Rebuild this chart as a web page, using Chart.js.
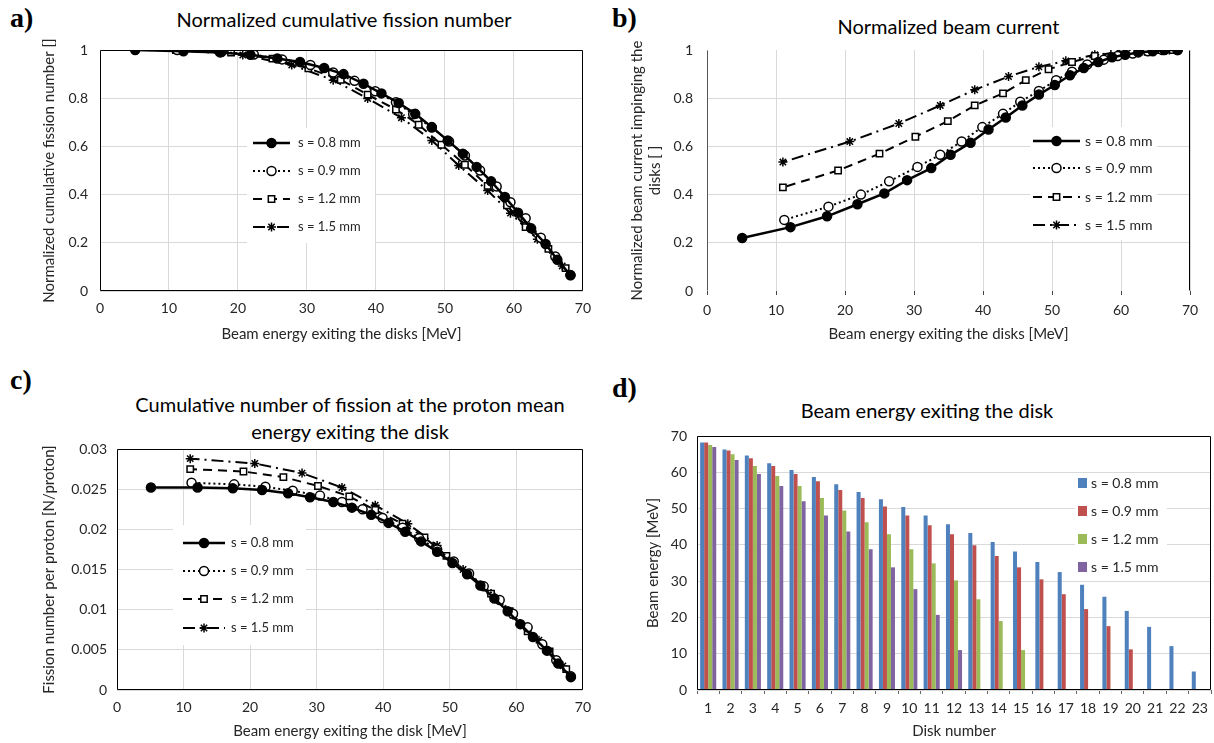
<!DOCTYPE html>
<html lang="en">
<head>
  <meta charset="UTF-8" />
  <title>Disk stack: fission and beam energy</title>
  <script src="https://cdn.jsdelivr.net/npm/chart.js"></script>
  <style>
    body {
      margin: 0;
      background: #fff;
      font-family: Lato, 'Open Sans', sans-serif;
    }
    #page {
      position: relative;
      width: 1214px;
      height: 743px;
      overflow: hidden;
    }
    canvas { position: absolute; }
    .letter {
      position: absolute;
      font-family: 'Liberation Serif', serif;
      font-weight: bold;
      font-size: 28px;
      color: #000;
    }
    .title {
      position: absolute;
      text-align: center;
      font-size: 20px;
      line-height: 27px;
      color: #000;
    }
  </style>
</head>
<body>
<div id="page">
  <div class="letter" style="left:10px; top:2px;">a)</div>
  <div class="letter" style="left:612px; top:2px;">b)</div>
  <div class="letter" style="left:10px; top:364px;">c)</div>
  <div class="letter" style="left:612px; top:372px;">d)</div>

  <div class="title" style="left:100px; width:488px; top:6px;">Normalized cumulative fission number</div>
  <div class="title" style="left:707px; width:483px; top:13px;">Normalized beam current</div>
  <div class="title" style="left:100px; width:500px; top:391px;">Cumulative number of fission at the proton mean<br>energy exiting the disk</div>
  <div class="title" style="left:697px; width:460px; top:397px;">Beam energy exiting the disk</div>

  <canvas id="chartA" width="600" height="350" style="left:0; top:0;"></canvas>
  <canvas id="chartB" width="614" height="350" style="left:600px; top:0;"></canvas>
  <canvas id="chartC" width="600" height="383" style="left:0; top:360px;"></canvas>
  <canvas id="chartD" width="614" height="383" style="left:600px; top:360px;"></canvas>
</div>

<script>
  // beam energy exiting each disk [MeV], disk 1 first
  const energy08 = [68.2, 66.3, 64.6, 62.5, 60.6, 58.7, 56.7, 54.6, 52.6, 50.4, 48.1, 45.7, 43.3, 40.8, 38.2, 35.3, 32.5, 29.0, 25.7, 21.8, 17.4, 12.1, 5.1];
  const energy09 = [68.2, 66.0, 63.9, 61.7, 59.5, 57.5, 55.1, 52.9, 50.6, 48.1, 45.4, 42.9, 39.9, 36.9, 33.8, 30.5, 26.4, 22.3, 17.6, 11.2];
  const energy12 = [67.5, 65.0, 61.7, 59.0, 56.2, 52.9, 49.5, 46.2, 42.9, 38.8, 34.9, 30.2, 25.0, 19.0, 11.0];
  const energy15 = [67.0, 63.4, 59.5, 56.2, 52.0, 48.1, 43.7, 38.8, 33.8, 27.8, 20.7, 11.0];

  // a) normalized cumulative fission number
  const normFis08 = [0.065, 0.13, 0.195, 0.26, 0.325, 0.39, 0.455, 0.515, 0.57, 0.625, 0.68, 0.735, 0.78, 0.82, 0.86, 0.9, 0.925, 0.95, 0.965, 0.98, 0.99, 0.995, 1.0];
  const normFis09 = [0.066, 0.143, 0.221, 0.302, 0.368, 0.434, 0.5, 0.562, 0.62, 0.678, 0.733, 0.783, 0.829, 0.872, 0.907, 0.938, 0.961, 0.981, 0.992, 1.0];
  const normFis12 = [0.095, 0.175, 0.265, 0.356, 0.436, 0.524, 0.607, 0.69, 0.753, 0.815, 0.876, 0.924, 0.964, 0.989, 1.0];
  const normFis15 = [0.104, 0.215, 0.323, 0.417, 0.521, 0.625, 0.719, 0.799, 0.875, 0.938, 0.979, 1.0];

  // b) normalized beam current impinging the disks
  const current08 = [1.0, 1.0, 0.995, 0.99, 0.98, 0.97, 0.95, 0.925, 0.895, 0.855, 0.815, 0.77, 0.72, 0.67, 0.615, 0.565, 0.51, 0.46, 0.405, 0.36, 0.31, 0.265, 0.22];
  const current09 = [1.0, 1.0, 0.995, 0.985, 0.975, 0.96, 0.94, 0.91, 0.875, 0.83, 0.785, 0.735, 0.68, 0.62, 0.565, 0.515, 0.455, 0.40, 0.35, 0.295];
  const current12 = [1.0, 1.0, 0.995, 0.99, 0.975, 0.95, 0.92, 0.875, 0.82, 0.77, 0.705, 0.64, 0.57, 0.50, 0.43];
  const current15 = [1.0, 0.995, 0.99, 0.98, 0.955, 0.93, 0.89, 0.835, 0.77, 0.695, 0.62, 0.535];

  // c) fission number per proton [N/proton]
  const fission08 = [0.0016, 0.0033, 0.0049, 0.0066, 0.0082, 0.0098, 0.0114, 0.013, 0.0144, 0.0158, 0.0172, 0.0185, 0.0197, 0.0208, 0.0218, 0.0227, 0.0234, 0.024, 0.0245, 0.0249, 0.0251, 0.0252, 0.0252];
  const fission09 = [0.0017, 0.0037, 0.0057, 0.0078, 0.0095, 0.0112, 0.0129, 0.0145, 0.016, 0.0175, 0.0189, 0.0202, 0.0214, 0.0225, 0.0234, 0.0242, 0.0248, 0.0253, 0.0256, 0.0258];
  const fission12 = [0.0026, 0.0048, 0.0073, 0.0098, 0.012, 0.0144, 0.0167, 0.019, 0.0207, 0.0224, 0.0241, 0.0254, 0.0265, 0.0272, 0.0275];
  const fission15 = [0.003, 0.0062, 0.0093, 0.012, 0.015, 0.018, 0.0207, 0.023, 0.0252, 0.027, 0.0282, 0.0288];

  const diskNumbers = ['1', '2', '3', '4', '5', '6', '7', '8', '9', '10', '11', '12', '13', '14', '15', '16', '17', '18', '19', '20', '21', '22', '23'];
  const seriesNames = ['s = 0.8 mm', 's = 0.9 mm', 's = 1.2 mm', 's = 1.5 mm'];
  const energies = [energy08, energy09, energy12, energy15];

  Chart.defaults.font.family = "Lato, 'Open Sans', sans-serif";
  Chart.defaults.font.size = 14;
  Chart.defaults.color = '#262626';
  Chart.defaults.animation = false;

  const GRID = '#d9d9d9';
  const AXIS_TITLE = { size: 15 };

  // Excel prints 1, 0.8, 0.03, 0.025 ... (no trailing zeros)
  const plainNumber = v => String(parseFloat(Number(v).toFixed(4)));

  // line look of each thickness (Excel black & white styles)
  const lineStyles = [
    { borderDash: [], borderWidth: 2.5, pointStyle: 'circle', pointBackgroundColor: '#000' },
    { borderDash: [2, 3], borderWidth: 2, pointStyle: 'circle', pointBackgroundColor: '#fff' },
    { borderDash: [9, 6], borderWidth: 2, pointStyle: 'rect', pointBackgroundColor: '#fff' },
    { borderDash: [12, 5, 2, 5], borderWidth: 2, pointStyle: 'star', pointBackgroundColor: '#fff' }
  ];

  function lineSets(values) {
    return values.map((vals, i) => Object.assign({
      label: seriesNames[i],
      data: energies[i].map((e, k) => ({ x: e, y: vals[k] })),
      borderColor: '#000',
      pointBorderColor: '#000',
      pointRadius: 4.5,
      pointBorderWidth: 1.5,
      tension: 0,
      fill: false
    }, lineStyles[i]));
  }

  // frame round the plot area
  const frame = {
    id: 'frame',
    afterDraw(chart, args, opts) {
      const a = chart.chartArea, ctx = chart.ctx;
      ctx.save();
      ctx.lineWidth = 1;
      const sides = opts.sides || 'tlbr';
      const line = (x1, y1, x2, y2, c) => {
        ctx.strokeStyle = c;
        ctx.beginPath(); ctx.moveTo(x1, y1); ctx.lineTo(x2, y2); ctx.stroke();
      };
      const L = Math.round(a.left) + 0.5, R = Math.round(a.right) - 0.5;
      const T = Math.round(a.top) + 0.5, B = Math.round(a.bottom) - 0.5;
      if (sides.includes('t')) line(L, T, R, T, '#000');
      if (sides.includes('b')) line(L, B, R, B, '#000');
      if (sides.includes('l')) line(L, T, L, B, opts.leftColor || '#000');
      if (sides.includes('r')) line(R, T, R, B, '#000');
      ctx.restore();
    }
  };

  // legend drawn inside the plot, Excel style
  const boxLegend = {
    id: 'boxLegend',
    beforeDatasetsDraw(chart, args, o) {
      const ctx = chart.ctx;
      ctx.save();
      ctx.fillStyle = '#fff';
      ctx.fillRect(o.box[0], o.box[1], o.box[2], o.box[3]);
      ctx.font = o.fontSize + "px Lato, 'Open Sans', sans-serif";
      ctx.textBaseline = 'middle';
      chart.data.datasets.forEach((ds, i) => {
        const y = o.rows[i];
        if (o.bars) {
          ctx.fillStyle = ds.backgroundColor;
          ctx.fillRect(o.lineX[0], y - 5, 9, 10);
        } else {
          ctx.strokeStyle = '#000';
          ctx.lineWidth = ds.borderWidth;
          ctx.setLineDash(ds.borderDash);
          ctx.beginPath();
          ctx.moveTo(o.lineX[0], y);
          ctx.lineTo(o.lineX[1], y);
          ctx.stroke();
          ctx.setLineDash([]);
          ctx.fillStyle = ds.pointBackgroundColor;
          ctx.lineWidth = 1.5;
          Chart.helpers.drawPoint(ctx, { pointStyle: ds.pointStyle, radius: 4.5, borderWidth: 1.5, rotation: 0 },
            (o.lineX[0] + o.lineX[1]) / 2, y);
        }
        ctx.fillStyle = '#262626';
        ctx.fillText(ds.label, o.textX, y);
      });
      ctx.restore();
    }
  };

  function fixWidth(w) { return s => { s.width = w; }; }
  function fixHeight(h) { return s => { s.height = h; }; }

  function xEnergy(title, height, tickOpts, gridOpts) {
    return {
      type: 'linear', min: 0, max: 70,
      ticks: Object.assign({ stepSize: 10, padding: 9 }, tickOpts || {}),
      grid: Object.assign({ color: GRID, drawTicks: false }, gridOpts || {}),
      border: { display: false },
      title: { display: true, text: title, font: AXIS_TITLE, padding: { top: 4, bottom: 3 } },
      afterFit: fixHeight(height)
    };
  }

  // a) normalized cumulative fission number
  new Chart(document.getElementById('chartA'), {
    type: 'line',
    data: { datasets: lineSets([normFis08, normFis09, normFis12, normFis15]) },
    options: {
      responsive: false,
      devicePixelRatio: 1,
      layout: { padding: { left: 36, top: 50, right: 12, bottom: 4 } },
      plugins: {
        legend: { display: false },
        tooltip: { enabled: false },
        frame: { sides: 'tlbr' },
        boxLegend: { box: [247, 128, 128, 115], rows: [143, 171, 199, 227], lineX: [253, 290], textX: 298, fontSize: 13 }
      },
      scales: {
        x: xEnergy('Beam energy exiting the disks [MeV]', 55),
        y: {
          min: 0, max: 1,
          ticks: { stepSize: 0.2, padding: 12, callback: plainNumber },
          grid: { color: GRID, drawTicks: false },
          border: { display: false },
          title: { display: true, text: 'Normalized cumulative fission number []', font: AXIS_TITLE, padding: { top: 4, bottom: 4 } },
          afterFit: fixWidth(64)
        }
      }
    },
    plugins: [frame, boxLegend]
  });

  // b) normalized beam current
  new Chart(document.getElementById('chartB'), {
    type: 'line',
    data: { datasets: lineSets([current08, current09, current12, current15]) },
    options: {
      responsive: false,
      devicePixelRatio: 1,
      layout: { padding: { left: 24, top: 50, right: 24, bottom: 4 } },
      plugins: {
        legend: { display: false },
        tooltip: { enabled: false },
        frame: { sides: 'lr', leftColor: '#555' },
        boxLegend: { box: [430, 127, 127, 113], rows: [141, 168, 197, 225], lineX: [433, 480], textX: 485, fontSize: 14 }
      },
      scales: {
        x: xEnergy('Beam energy exiting the disks [MeV]', 55, { padding: 7 },
          { drawTicks: true, tickLength: 4, tickColor: '#444' }),
        y: {
          min: 0, max: 1,
          ticks: { stepSize: 0.2, padding: 14, callback: plainNumber },
          grid: {
            drawTicks: false,
            color: ctx => (ctx.tick && (ctx.tick.value === 0 || ctx.tick.value === 1)) ? 'rgba(0,0,0,0)' : GRID
          },
          border: { display: false },
          title: { display: true, text: ['Normalized beam current impinging the', 'disks [ ]'], font: AXIS_TITLE, padding: { top: 4, bottom: 0 } },
          afterFit: fixWidth(83)
        }
      }
    },
    plugins: [frame, boxLegend]
  });

  // c) cumulative fission number per proton
  new Chart(document.getElementById('chartC'), {
    type: 'line',
    data: { datasets: lineSets([fission08, fission09, fission12, fission15]) },
    options: {
      responsive: false,
      devicePixelRatio: 1,
      layout: { padding: { left: 36, top: 89, right: 14, bottom: 0 } },
      plugins: {
        legend: { display: false },
        tooltip: { enabled: false },
        frame: { sides: 'tlbr' },
        boxLegend: { box: [173, 165, 133, 120], rows: [183, 211, 239, 268], lineX: [183, 225], textX: 231, fontSize: 13 }
      },
      scales: {
        x: xEnergy('Beam energy exiting the disk [MeV]', 53),
        y: {
          min: 0, max: 0.03,
          ticks: { stepSize: 0.005, padding: 10, callback: plainNumber },
          grid: { color: GRID, drawTicks: false },
          border: { display: false },
          title: { display: true, text: 'Fission number per proton [N/proton]', font: AXIS_TITLE, padding: { top: 4, bottom: 4 } },
          afterFit: fixWidth(81)
        }
      }
    },
    plugins: [frame, boxLegend]
  });

  // d) beam energy exiting each disk
  const barColors = ['#4f81bd', '#c0504d', '#9bbb59', '#8064a2'];
  new Chart(document.getElementById('chartD'), {
    type: 'bar',
    data: {
      labels: diskNumbers,
      datasets: energies.map((e, i) => ({
        label: seriesNames[i],
        data: e,
        backgroundColor: barColors[i],
        categoryPercentage: 0.72,
        barPercentage: 1.0
      }))
    },
    options: {
      responsive: false,
      devicePixelRatio: 1,
      layout: { padding: { left: 40, top: 76, right: 2, bottom: 0 } },
      plugins: {
        legend: { display: false },
        tooltip: { enabled: false },
        frame: { sides: 'tlbr' },
        boxLegend: { bars: true, box: [475, 113, 92, 104], rows: [123, 151, 179, 207], lineX: [478], textX: 491, fontSize: 14 }
      },
      scales: {
        x: {
          ticks: { padding: 6 },
          grid: { display: true, drawOnChartArea: false, offset: true, drawTicks: true, tickLength: 4, tickColor: '#666' },
          border: { display: false },
          title: { display: true, text: 'Disk number', font: AXIS_TITLE, padding: { top: 4, bottom: 3 } },
          afterFit: fixHeight(53)
        },
        y: {
          min: 0, max: 70,
          ticks: { stepSize: 10, padding: 10 },
          grid: { color: GRID, drawTicks: false },
          border: { display: false },
          title: { display: true, text: 'Beam energy [MeV]', font: AXIS_TITLE, padding: { top: 4, bottom: 4 } },
          afterFit: fixWidth(57)
        }
      }
    },
    plugins: [frame, boxLegend]
  });
</script>
</body>
</html>
